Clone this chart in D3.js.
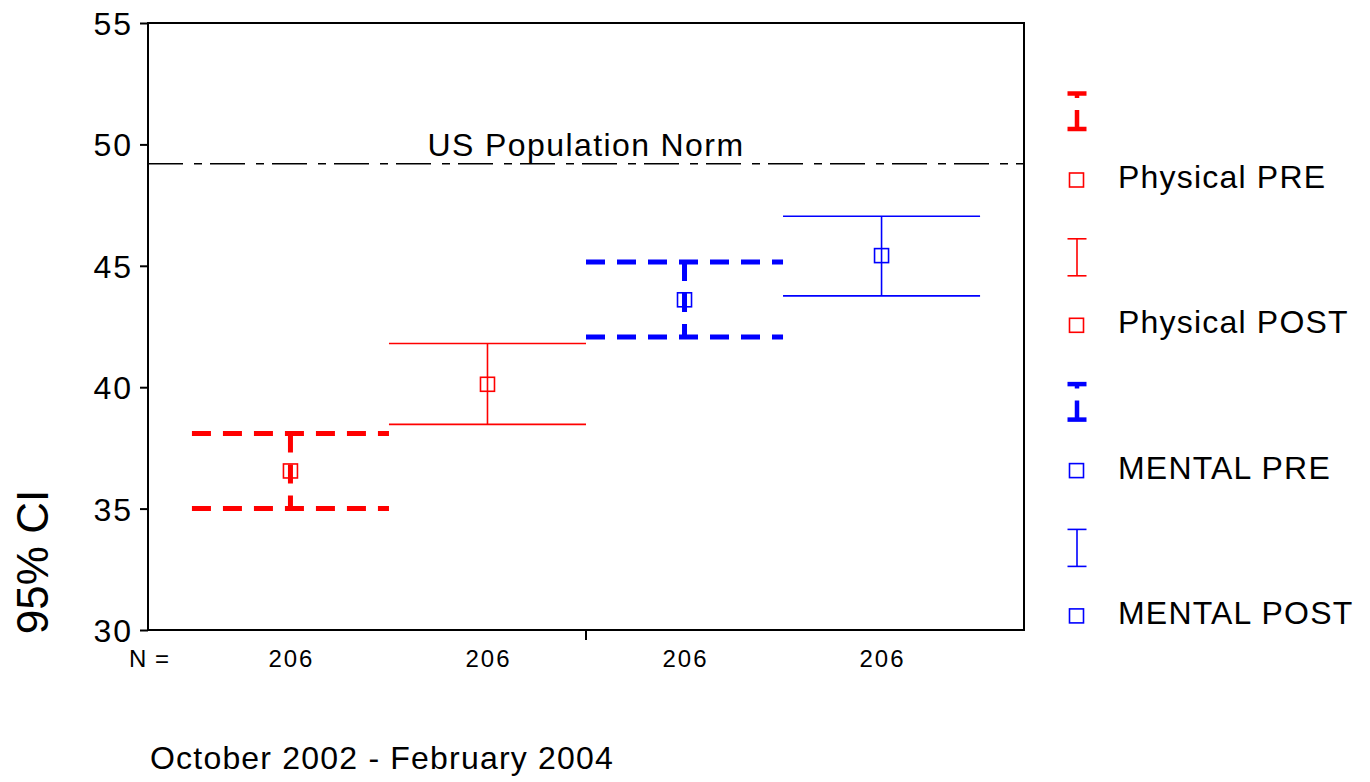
<!DOCTYPE html>
<html>
<head>
<meta charset="utf-8">
<script src="https://cdn.jsdelivr.net/npm/d3@7"></script>
<style>
  body { margin: 0; background: #fff; }
  svg text { font-family: "Liberation Sans", Arial, sans-serif; fill: #000; }
</style>
</head>
<body>
<svg id="chart" width="1370" height="782"></svg>
<script>
// data
const series = ['Physical PRE', 'Physical POST', 'MENTAL PRE', 'MENTAL POST'];
const means = [36.55, 40.12, 43.6, 45.42];
const lower = [35.0, 38.47, 42.07, 43.76];
const upper = [38.09, 41.8, 45.16, 47.04];
const counts = [206, 206, 206, 206];
const colors = ['#ff0000', '#ff0000', '#0000ff', '#0000ff'];
const dashed = [true, false, true, false];
const yTicks = [30, 35, 40, 45, 50, 55];
const normValue = 49.2;
const category = 'October 2002 - February 2004';

const margin = {left: 148, top: 23, right: 346, bottom: 152};
const width = 1370 - margin.left - margin.right;
const height = 782 - margin.top - margin.bottom;
const dashPat = '19,12';

const svg = d3.select('#chart');
const g = svg.append('g')
  .attr('transform', `translate(${margin.left}, ${margin.top})`);

const y = d3.scaleLinear().domain([30, 55]).range([height, 0]);
const xCat = d3.scaleBand().domain([category]).range([0, width]);
const x = d3.scaleBand()
  .domain(series)
  .range([0, width])
  .paddingInner(0)
  .paddingOuter(0.223);

// y axis
const yAxis = g.append('g')
  .call(d3.axisLeft(y).tickValues(yTicks).tickSize(8).tickSizeOuter(0).tickPadding(7));
yAxis.select('.domain').remove();
yAxis.selectAll('line').attr('stroke', '#000').attr('stroke-width', 2);
yAxis.selectAll('text')
  .style('font-size', '32px')
  .style('letter-spacing', '2px')
  .attr('dy', '0.36em');

// x axis (single category, tick in the middle)
const xAxis = g.append('g')
  .attr('transform', `translate(0, ${height})`)
  .call(d3.axisBottom(xCat).tickSize(10).tickSizeOuter(0).tickFormat(''));
xAxis.select('.domain').remove();
xAxis.selectAll('line').attr('stroke', '#000').attr('stroke-width', 2);

// frame
g.append('path')
  .attr('d', `M0,${height}V0H${width}V${height}H0`)
  .attr('fill', 'none')
  .attr('stroke', '#000')
  .attr('stroke-width', 2);

// population norm
g.append('line')
  .attr('x1', 0).attr('x2', width)
  .attr('y1', y(normValue)).attr('y2', y(normValue))
  .attr('stroke', '#000')
  .attr('stroke-width', 1.4)
  .attr('stroke-dasharray', '35,11,8,8');
g.append('text')
  .attr('x', width / 2)
  .attr('y', y(normValue) - 8)
  .attr('text-anchor', 'middle')
  .style('font-size', '32px')
  .style('letter-spacing', '1.4px')
  .text('US Population Norm');

// error bars
const rows = series.map((s, i) => ({
  name: s, mean: means[i], lo: lower[i], hi: upper[i],
  color: colors[i], dashed: dashed[i], n: counts[i]
}));

const bars = g.selectAll('.bar')
  .data(rows)
  .enter()
  .append('g')
  .attr('class', 'bar');

bars.each(function(d) {
  const sel = d3.select(this);
  const x0 = x(d.name);
  const xc = x0 + x.bandwidth() / 2;
  const sw = d.dashed ? 5 : 1.6;
  const da = d.dashed ? dashPat : null;
  [d.hi, d.lo].forEach(v => {
    sel.append('line')
      .attr('x1', x0).attr('x2', x0 + x.bandwidth())
      .attr('y1', y(v)).attr('y2', y(v))
      .attr('stroke', d.color)
      .attr('stroke-width', sw)
      .attr('stroke-dasharray', da);
  });
  sel.append('line')
    .attr('x1', xc).attr('x2', xc)
    .attr('y1', y(d.hi)).attr('y2', y(d.lo))
    .attr('stroke', d.color)
    .attr('stroke-width', sw)
    .attr('stroke-dasharray', da);
  sel.append('rect')
    .attr('x', xc - 7).attr('y', y(d.mean) - 7)
    .attr('width', 14).attr('height', 14)
    .attr('fill', 'none')
    .attr('stroke', d.color)
    .attr('stroke-width', 1.6);
});

// N labels
g.append('text')
  .attr('x', -19)
  .attr('y', height + 37)
  .style('font-size', '24px')
  .style('letter-spacing', '1px')
  .text('N =');
g.selectAll('.nlab')
  .data(rows)
  .enter()
  .append('text')
  .attr('class', 'nlab')
  .attr('x', d => x(d.name) + x.bandwidth() / 2 + 1)
  .attr('y', height + 37)
  .attr('text-anchor', 'middle')
  .style('font-size', '24px')
  .style('letter-spacing', '2px')
  .text(d => d.n);

// category label
g.append('text')
  .attr('x', 2)
  .attr('y', height + 139)
  .style('font-size', '32px')
  .style('letter-spacing', '1.2px')
  .text(category);

// y title
svg.append('text')
  .attr('transform', 'translate(48, 562) rotate(-90)')
  .attr('text-anchor', 'middle')
  .style('font-size', '44px')
  .text('95% CI');

// legend
const legend = svg.append('g').attr('transform', 'translate(1077, 0)');
const step = 145.3;
rows.forEach((d, i) => {
  const top = 93.5 + i * step;
  const bot = top + (d.dashed ? 35.5 : 37);
  const sw = d.dashed ? 4.5 : 1.6;
  const gi = legend.append('g');
  [top, bot].forEach(v => {
    gi.append('line')
      .attr('x1', -9.5).attr('x2', 9.5)
      .attr('y1', v).attr('y2', v)
      .attr('stroke', d.color)
      .attr('stroke-width', sw);
  });
  gi.append('line')
    .attr('x1', 0).attr('x2', 0)
    .attr('y1', bot).attr('y2', top)
    .attr('stroke', d.color)
    .attr('stroke-width', sw)
    .attr('stroke-dasharray', d.dashed ? dashPat : null);
  const sy = 180 + i * step;
  gi.append('rect')
    .attr('x', -7.5).attr('y', sy - 7)
    .attr('width', 14).attr('height', 14)
    .attr('fill', 'none')
    .attr('stroke', d.color)
    .attr('stroke-width', 1.6);
  gi.append('text')
    .attr('x', 41)
    .attr('y', sy + 8)
    .style('font-size', '32px')
    .style('letter-spacing', '1.2px')
    .text(d.name);
});
</script>
</body>
</html>
